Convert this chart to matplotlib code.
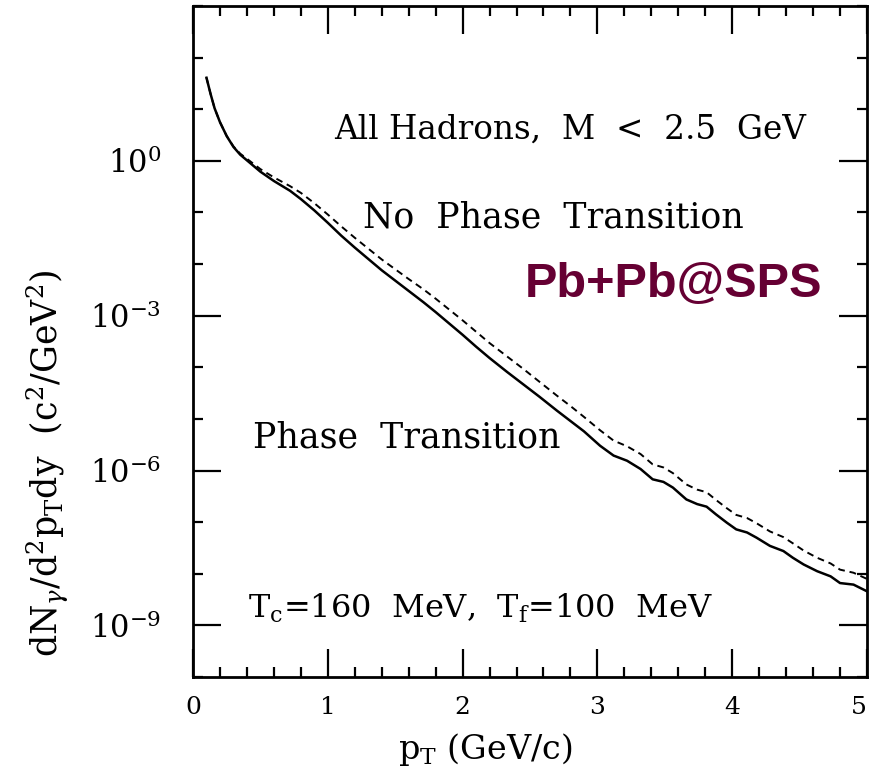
import numpy as np
import matplotlib
matplotlib.use("Agg")
import matplotlib.pyplot as plt
from matplotlib.ticker import FixedLocator, NullFormatter

plt.rcParams['font.family'] = ['DejaVu Serif']
plt.rcParams['mathtext.fontset'] = 'dejavuserif'

# Photon spectra, log10 of dN/d^2pT dy
pt_with = [0.10, 0.13, 0.16, 0.20, 0.25, 0.30, 0.35, 0.40, 0.50, 0.60, 0.72, 0.80,
           0.90, 1.00, 1.10, 1.20, 1.30, 1.40, 1.50, 1.60, 1.71, 1.80, 1.90, 2.00,
           2.10, 2.20, 2.33, 2.45, 2.57, 2.70, 2.80, 2.90, 3.02, 3.12, 3.22, 3.32,
           3.41, 3.49, 3.56, 3.66, 3.74, 3.81, 3.88, 3.96, 4.03, 4.11, 4.18, 4.28,
           4.38, 4.45, 4.53, 4.63, 4.73, 4.80, 4.90, 5.00]
log_with = [1.61, 1.30, 1.02, 0.75, 0.48, 0.27, 0.12, 0.01, -0.21, -0.39, -0.58, -0.74,
            -0.96, -1.20, -1.45, -1.68, -1.90, -2.12, -2.32, -2.52, -2.74, -2.93, -3.15, -3.37,
            -3.60, -3.82, -4.09, -4.33, -4.57, -4.84, -5.04, -5.24, -5.52, -5.71, -5.81, -5.97,
            -6.17, -6.22, -6.33, -6.56, -6.65, -6.70, -6.85, -7.01, -7.14, -7.20, -7.30, -7.46,
            -7.56, -7.69, -7.82, -7.95, -8.05, -8.18, -8.21, -8.34]

pt_without = pt_with
log_without = [1.61, 1.30, 1.02, 0.75, 0.48, 0.28, 0.14, 0.04, -0.16, -0.32, -0.49, -0.62,
               -0.82, -1.04, -1.27, -1.49, -1.70, -1.91, -2.10, -2.29, -2.49, -2.67, -2.88, -3.09,
               -3.31, -3.53, -3.79, -4.03, -4.28, -4.55, -4.75, -4.96, -5.22, -5.42, -5.53, -5.68,
               -5.88, -5.94, -6.05, -6.27, -6.37, -6.42, -6.57, -6.73, -6.86, -6.92, -7.02, -7.18,
               -7.29, -7.41, -7.55, -7.69, -7.80, -7.92, -7.98, -8.10]

y_major_exp = [0, -3, -6, -9]
y_minor_exp = list(range(-10, 4))
x_major = [0, 1, 2, 3, 4, 5]
x_minor = list(np.round(np.arange(0, 5.01, 0.2), 2))

fig = plt.figure(figsize=(8.73, 7.72), dpi=100)
ax = fig.add_axes([193/873, 1 - 677/772, (867 - 193)/873, (677 - 6)/772])

ax.plot(pt_with, 10.0 ** np.array(log_with), color='black', lw=1.8, solid_joinstyle='round')
ax.plot(pt_without, 10.0 ** np.array(log_without), color='black', lw=1.4,
        linestyle=(0, (3.5, 2.5)))

ax.set_yscale('log')
ax.set_xlim(0, 5)
ax.set_ylim(1e-10, 1e3)

ax.xaxis.set_major_locator(FixedLocator(x_major))
ax.xaxis.set_minor_locator(FixedLocator(x_minor))
ax.set_xticklabels([str(v) for v in x_major])
ax.yaxis.set_major_locator(FixedLocator([10.0 ** e for e in y_major_exp]))
ax.yaxis.set_minor_locator(FixedLocator([10.0 ** e for e in y_minor_exp]))
ax.set_yticklabels([r'$10^{%d}$' % e for e in y_major_exp])
ax.yaxis.set_minor_formatter(NullFormatter())

for s in ax.spines.values():
    s.set_linewidth(2.0)
ax.tick_params(which='both', direction='in', top=True, right=True, width=1.6)
ax.tick_params(which='major', length=20)
ax.tick_params(which='minor', length=7)
ax.tick_params(axis='x', which='major', labelsize=18, pad=14)
ax.tick_params(axis='y', which='major', labelsize=22, pad=23)

# keep the last x tick label inside the canvas
ax.get_xticklabels()[-1].set_horizontalalignment('right')
ax.get_xticklabels()[-1].set_x(5.04)


def fig_px(x, y):
    return (x / 873, 1 - y / 772)


fig.text(*fig_px(48, 463), r'dN$_{\gamma}$/d$^2$p$_{\rm T}$dy  (c$^2$/GeV$^2$)',
         rotation=90, ha='center', va='center', fontsize=25)
fig.text(*fig_px(485, 750), r'p$_{\rm T}$ (GeV/c)', ha='center', va='center',
         fontsize=24)

fig.text(*fig_px(570, 130), 'All Hadrons,  M  <  2.5  GeV', fontsize=23.5,
         ha='center', va='center')
fig.text(*fig_px(553, 218), 'No  Phase  Transition', fontsize=25, ha='center', va='center')
fig.text(*fig_px(407, 437), 'Phase  Transition', fontsize=25, ha='center', va='center')
fig.text(*fig_px(480, 608), r'T$_{\rm c}$=160  MeV,  T$_{\rm f}$=100  MeV', fontsize=23,
         ha='center', va='center')
fig.text(*fig_px(674, 285), 'Pb+Pb@SPS', fontsize=35, ha='center', va='center',
         color='#660033', fontweight='bold', family='Liberation Sans')

fig.savefig('out.png', dpi=100)
